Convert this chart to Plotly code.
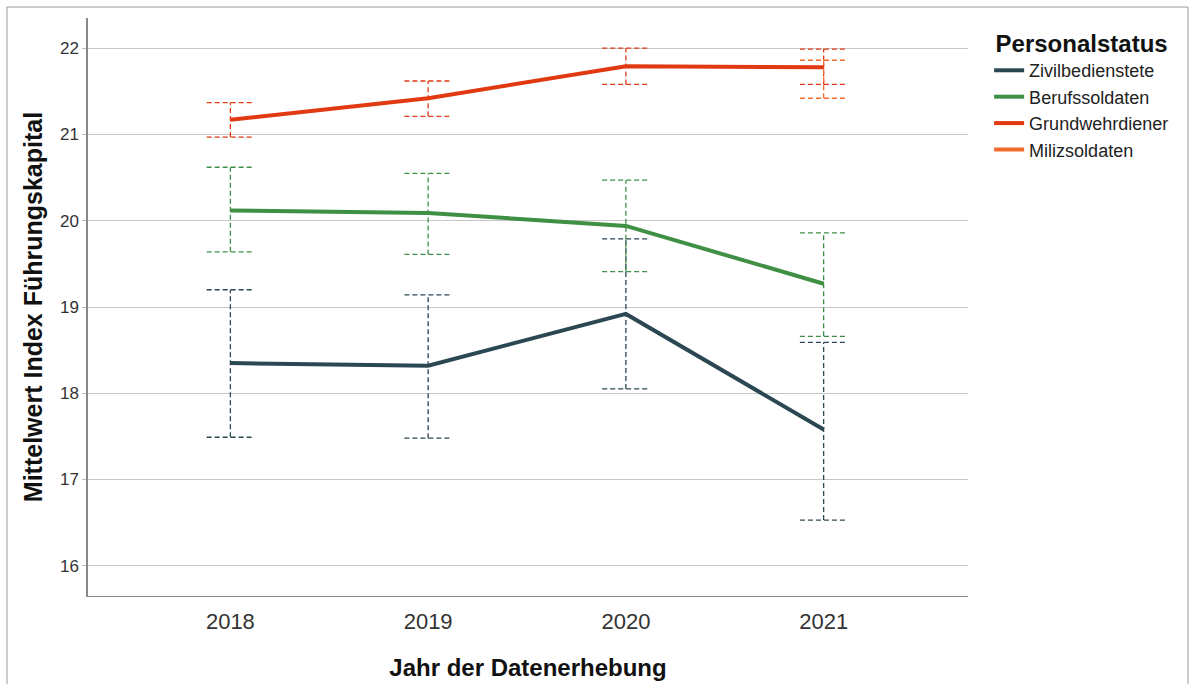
import plotly.graph_objects as go

# Survey years and group labels
years = ["2018", "2019", "2020", "2021"]
groups = ["Zivilbedienstete", "Berufssoldaten", "Grundwehrdiener", "Milizsoldaten"]

# Means and 95% CI bounds per group (None = no data)
zivil_mean = [18.35, 18.32, 18.92, 17.58]
zivil_lo = [17.49, 17.48, 18.05, 16.53]
zivil_hi = [19.20, 19.14, 19.79, 18.59]

beruf_mean = [20.12, 20.09, 19.94, 19.27]
beruf_lo = [19.64, 19.61, 19.41, 18.66]
beruf_hi = [20.62, 20.55, 20.47, 19.86]

grund_mean = [21.17, 21.42, 21.79, 21.78]
grund_lo = [20.97, 21.21, 21.58, 21.58]
grund_hi = [21.37, 21.62, 22.00, 21.99]

miliz_mean = [None, None, None, 21.64]
miliz_lo = [None, None, None, 21.42]
miliz_hi = [None, None, None, 21.86]

colors = ["#2b4752", "#3f8f44", "#e13a12", "#f26a2c"]

series = [
    (groups[0], zivil_mean, zivil_lo, zivil_hi, colors[0]),
    (groups[1], beruf_mean, beruf_lo, beruf_hi, colors[1]),
    (groups[2], grund_mean, grund_lo, grund_hi, colors[2]),
    (groups[3], miliz_mean, miliz_lo, miliz_hi, colors[3]),
]

xpos = list(range(len(years)))
cap = 0.12  # half width of the CI caps in category units

fig = go.Figure()

# Dashed confidence-interval whiskers
for name, mean, lo, hi, col in series:
    xs, ys = [], []
    for i, (l, h) in enumerate(zip(lo, hi)):
        if l is None or h is None:
            continue
        xs += [i, i, None, i - cap, i + cap, None, i - cap, i + cap, None]
        ys += [l, h, None, l, l, None, h, h, None]
    fig.add_trace(go.Scatter(
        x=xs, y=ys, mode="lines", showlegend=False, hoverinfo="skip",
        line=dict(color=col, width=1.3, dash="5px,3px"),
    ))

# Mean lines
for name, mean, lo, hi, col in series:
    fig.add_trace(go.Scatter(
        x=xpos, y=mean, mode="lines", name=name,
        line=dict(color=col, width=4),
    ))

fig.update_layout(
    width=1190, height=684,
    margin=dict(l=88, r=222, t=18, b=88),
    paper_bgcolor="white", plot_bgcolor="white",
    font=dict(family="Liberation Sans, Arial, sans-serif", color="#222"),
    showlegend=True,
    legend=dict(
        title=dict(text="<b>Personalstatus</b>", font=dict(size=24, color="#111"), side="top center"),
        x=1.024, xanchor="left", y=0.995, yanchor="top",
        font=dict(size=18, color="#222"),
        tracegroupgap=0, itemwidth=30,
    ),
    xaxis=dict(
        range=[-0.72, 3.73],
        tickmode="array", tickvals=xpos, ticktext=years,
        tickfont=dict(size=22, color="#333"),
        showgrid=False, zeroline=False,
        showline=True, linecolor="#888", linewidth=1,
        ticks="outside", ticklen=6, tickcolor="rgba(0,0,0,0)",
        automargin=False,
        title=dict(text="<b>Jahr der Datenerhebung</b>", font=dict(size=24, color="#111"), standoff=25),
    ),
    yaxis=dict(
        range=[15.65, 22.35],
        tickmode="array", tickvals=[16, 17, 18, 19, 20, 21, 22],
        tickfont=dict(size=17, color="#333"),
        showgrid=True, gridcolor="#c8c8c8", gridwidth=1.2,
        zeroline=False,
        showline=True, linecolor="#888", linewidth=1.5,
        ticks="outside", ticklen=4, tickcolor="#bbb",
        automargin=False,
        title=dict(text="<b>Mittelwert Index Führungskapital</b>", font=dict(size=25, color="#111"), standoff=10),
    ),
    shapes=[dict(
        type="rect", xref="paper", yref="paper",
        x0=-81 / 880, x1=1100 / 880, y0=-100 / 578, y1=589 / 578,
        line=dict(color="#999", width=1), fillcolor="rgba(0,0,0,0)", layer="below",
    )],
)

fig.write_html("out.html")
